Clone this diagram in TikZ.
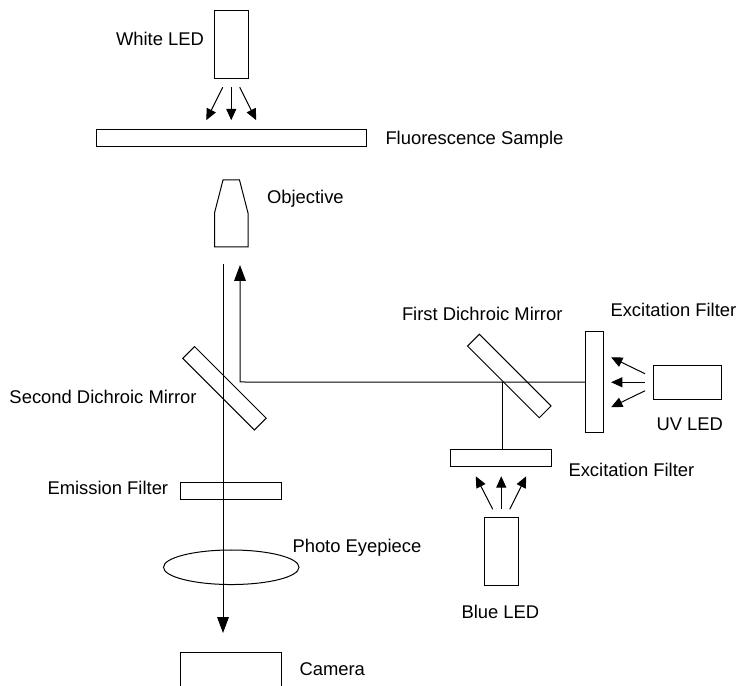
\documentclass[tikz,border=0pt]{standalone}
\usepackage{fontspec}
\setmainfont{Liberation Sans}
\usetikzlibrary{positioning,arrows.meta,calc,shapes.geometric}
\tikzset{
  fig/.style={font=\fontsize{13.8}{16}\selectfont,x=0.75pt,y=0.75pt,line width=0.75pt},
  box/.style={draw,outer sep=0pt,inner sep=0pt},
  tallbox/.style={box,minimum width=25.5pt,minimum height=51pt},
  widebox/.style={box,minimum width=51pt,minimum height=25.5pt},
  plate/.style={box,minimum width=76pt,minimum height=12.75pt},
  mirror/.style={box,rotate=-45,minimum width=76pt,minimum height=12.5pt},
  ln/.style={-{Triangle[length=12pt,width=8.75pt]}},
  lnfan/.style={-{Triangle[length=8.5pt,width=7.5pt]}},
  lbl/.style={anchor=base west,inner sep=0pt},
}
\begin{document}
\begin{tikzpicture}[fig]
\clip (0,0) rectangle (738,685);

% --- sample column, top down
\node[tallbox] (whiteled) at (231.25,640.75) {};
\node[box,minimum width=202.5pt,minimum height=12.75pt,below=38.25pt of whiteled] (sample) {};
\coordinate (obj) at (231.25,438);
\draw (obj) ++(-16.75,0) -- ++(0,34) -- ++(8.5,33) -- ++(16.5,0) -- ++(8.5,-33) -- ++(0,-34) -- cycle;

\foreach \dx/\ex in {-8.5/-25,0/0,8.5/25}
  \draw[lnfan] ($(whiteled.south)+(\dx,-9)$) -- ($(whiteled.south)+(\ex,-42)$);

% --- imaging path
\node[mirror] (secondmirror) at (224.5,296.7) {};
\node[plate] (emission) at (231.25,193.5) {};
\node[draw,ellipse,outer sep=0pt,inner sep=0pt,minimum width=101.6pt,minimum height=25.9pt,
      below=37.5pt of emission] (eyepiece) {};
\node[box,minimum width=76pt,minimum height=50pt,below=50.6pt of eyepiece] (camera) {};

\coordinate (beamtop) at (223,421);
\coordinate (beamtip) at (223,52);
\draw[ln] (beamtop) -- (beamtip);

% --- excitation path
\node[mirror] (firstmirror) at (509.3,309) {};
\node[box,minimum width=13pt,minimum height=76pt] (exfilterr) at (594.4,302.75) {};
\node[widebox,right=37.5pt of exfilterr] (uvled) {};
\node[plate] (exfilterb) at (501.25,227.25) {};
\node[tallbox,below=38.25pt of exfilterb] (blueled) {};

\coordinate (bend) at (240,303);
\coordinate (bendtip) at (240,420);
\coordinate (hit) at (502.5,303);
\draw[ln] (exfilterr.west) -- (bend) -- (bendtip);
\draw (hit) -- (hit |- exfilterb.north);

\foreach \dy/\ey in {8.5/25,0/0,-8.5/-25}
  \draw[lnfan] ($(uvled.west)+(-8,\dy)$) -- ($(uvled.west)+(-42,\ey)$);
\foreach \dx/\ex in {-8.5/-25.5,0/0,8.5/25}
  \draw[lnfan] ($(blueled.north)+(\dx,8)$) -- ($(blueled.north)+(\ex,41)$);

% --- labels
\node[lbl] (lwhite) at (115.5,639) {White LED};
\node[lbl] (lsample) at (385,540) {Fluorescence Sample};
\node[lbl] (lobj) at (266.5,481) {Objective};
\node[lbl] (lfirst) at (401.5,364) {First Dichroic Mirror};
\node[lbl] (lexr) at (610,368.5) {Excitation Filter};
\node[lbl] (lsecond) at (9,281) {Second Dichroic Mirror};
\node[lbl] (luv) at (656,254) {UV LED};
\node[lbl] (lexb) at (568,208) {Excitation Filter};
\node[lbl] (lblue) at (461,67) {Blue LED};
\node[lbl] (lemission) at (47,190) {Emission Filter};
\node[lbl] (leye) at (292,132.5) {Photo Eyepiece};
\node[lbl] (lcam) at (299,10) {Camera};

\end{tikzpicture}
\end{document}
